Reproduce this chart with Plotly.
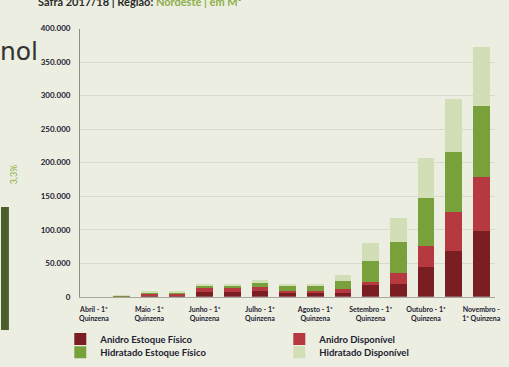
import plotly.graph_objects as go

W, H = 509, 367
MB = 22  # bottom margin reserved for the second legend row

# Fortnight categories (only the 1ª quinzena of each month gets a tick label)
meses = ["Abril", "Maio", "Junho", "Julho", "Agosto", "Setembro", "Outubro", "Novembro"]
categorias = []
for m in meses:
    categorias.append(f"{m} - 1ª Quinzena")
    if m != "Novembro":
        categorias.append(f"{m} - 2ª Quinzena")

tick_vals = [f"{m} - 1ª Quinzena" for m in meses]
tick_text = [f"{m} - 1ª<br>Quinzena" for m in meses[:-1]] + ["Novembro -<br>1ª Quinzena"]

# Stocks in m³
anidro_estoque_fisico = [0, 500, 2500, 2500, 7000, 7500, 8000, 5000, 5000, 6000,
                         17000, 19500, 44000, 68500, 98000]
anidro_disponivel = [0, 300, 1000, 1000, 6000, 6000, 7000, 4000, 4000, 5000,
                     5000, 15500, 32000, 57500, 81000]
hidratado_estoque_fisico = [0, 1500, 4000, 4000, 4000, 4000, 6000, 8000, 7500, 12000,
                            32000, 46000, 72000, 90500, 105000]
hidratado_disponivel = [0, 700, 1500, 1500, 2000, 1500, 3500, 2500, 2500, 10000,
                        26000, 37000, 59000, 78000, 89000]

y_ticks = [0, 50000, 100000, 150000, 200000, 250000, 300000, 350000, 400000]

# Neighbouring panel on the left (ethanol share)
painel_esq_valor = [3.3]

series = [
    ("Anidro Estoque Físico", anidro_estoque_fisico, "#7A1E24", "legend"),
    ("Anidro Disponível", anidro_disponivel, "#B5393E", "legend"),
    ("Hidratado Estoque Físico", hidratado_estoque_fisico, "#78A13B", "legend2"),
    ("Hidratado Disponível", hidratado_disponivel, "#D1DEB6", "legend2"),
]

fig = go.Figure()
for nome, valores, cor, leg in series:
    fig.add_trace(go.Bar(
        x=categorias, y=valores, name=nome,
        marker=dict(color=cor, line=dict(width=0)),
        xaxis="x", yaxis="y", legend=leg,
    ))

fig.add_trace(go.Bar(
    x=[0], y=painel_esq_valor, showlegend=False,
    marker=dict(color="#4B5E2B", line=dict(width=0)),
    width=[1], xaxis="x2", yaxis="y2",
))


def px_x(p):
    return p / W


def px_y(p):
    return (H - MB - p) / (H - MB)


bg = "#ECEEE1"
font = "Lato, 'Open Sans', sans-serif"
leg_font = dict(size=9.5, family=font, color="#1E2233", weight="bold")

legend_common = dict(
    orientation="h", xanchor="left",
    entrywidth=174, entrywidthmode="pixels",
    font=leg_font, itemwidth=30, bgcolor="rgba(0,0,0,0)",
    traceorder="normal",
)

fig.update_layout(
    width=W, height=H,
    margin=dict(l=0, r=0, t=0, b=MB),
    paper_bgcolor=bg, plot_bgcolor=bg,
    barmode="stack", bargap=0.4,
    separators=",.",
    font=dict(family=font, color="#222222"),
    xaxis=dict(
        domain=[px_x(80), px_x(500)],
        type="category", categoryorder="array", categoryarray=categorias,
        tickmode="array", tickvals=tick_vals, ticktext=tick_text,
        tickfont=dict(size=7, family=font, color="#1E2233", weight="bold"),
        showline=True, linecolor="#A6A89E", linewidth=1,
        ticks="", showgrid=False, ticklabelstandoff=6,
    ),
    yaxis=dict(
        domain=[px_y(296), px_y(24)],
        range=[0, 400000],
        tickmode="array", tickvals=y_ticks,
        tickformat=",d",
        tickfont=dict(size=8, family=font, color="#1E2233", weight="bold"),
        showline=True, linecolor="#8C8E86", linewidth=1,
        gridcolor="#D8DACE", gridwidth=1,
        zeroline=False, ticks="", ticklabelstandoff=7,
    ),
    xaxis2=dict(domain=[0, px_x(8)], range=[-0.5, 0.5], visible=False, anchor="y2"),
    yaxis2=dict(domain=[px_y(330), px_y(205)], range=[0, 3.3], visible=False, anchor="x2"),
    legend=dict(x=px_x(60), y=px_y(339), yanchor="middle", **legend_common),
    legend2=dict(x=px_x(60), y=px_y(367), yanchor="bottom", **legend_common),
    annotations=[
        dict(
            text="<b>Safra 2017/18 | Região: <span style='color:#8DB04C'>Nordeste | em M³</span></b>",
            xref="paper", yref="paper", x=px_x(35), y=px_y(-4),
            xanchor="left", yanchor="middle", showarrow=False,
            font=dict(size=11, family=font, color="#2A2A2A"),
        ),
        dict(
            text="Etanol",
            xref="paper", yref="paper", x=px_x(39), y=px_y(47),
            xanchor="right", yanchor="middle", showarrow=False,
            font=dict(size=25, family="'DejaVu Sans', sans-serif", color="#333333"),
        ),
        dict(
            text="3,3%",
            xref="paper", yref="paper", x=px_x(13), y=px_y(172),
            xanchor="center", yanchor="middle", showarrow=False, textangle=-90,
            font=dict(size=9, family=font, color="#8DB04C"),
        ),
    ],
)

fig.write_html("out.html")
